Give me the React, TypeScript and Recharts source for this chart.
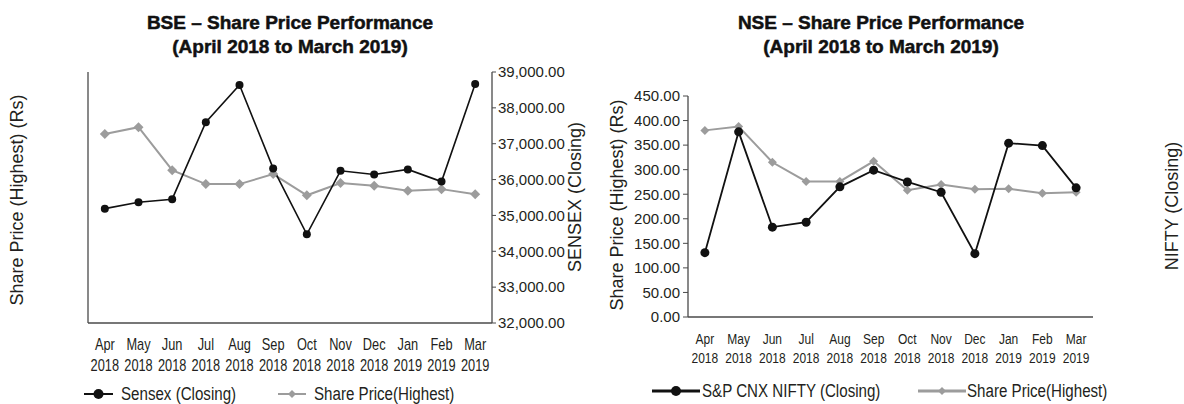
import React from "react";
import { LineChart, Line, XAxis, YAxis } from "recharts";

const months = ["Apr", "May", "Jun", "Jul", "Aug", "Sep", "Oct", "Nov", "Dec", "Jan", "Feb", "Mar"];
const years = ["2018", "2018", "2018", "2018", "2018", "2018", "2018", "2018", "2018", "2019", "2019", "2019"];

// BSE chart
const sensexClosing = [35189, 35368, 35453, 37598, 38636, 36311, 34472, 36245, 36142, 36283, 35943, 38664];
const bseSharePrice = [339, 351, 274, 249, 249, 267, 229, 251, 246, 237, 240, 231];
const sensexTicks = [32000, 33000, 34000, 35000, 36000, 37000, 38000, 39000];
const bseShareTicks = [0, 150, 300, 450];

// NSE chart
const niftyClosing = [131, 377, 183, 193, 265, 299, 275, 254, 129, 354, 349, 263];
const nseSharePrice = [380, 388, 315, 276, 276, 317, 258, 270, 260, 261, 252, 254];
const nseTicks = [0, 50, 100, 150, 200, 250, 300, 350, 400, 450];

const TEXT = "#231f20";
const AXIS = "#4a4a4a";
const BLACK = "#111111";
const GREY = "#9c9c9c";
const SANS = "'Liberation Sans', Arial, sans-serif";
// no narrow face installed, so condensed text is squeezed with a transform
const SQUEEZE = 0.8;

const idx = months.map((_, i) => i);
const bounds = months.map((_, i) => i - 0.5).concat(months.length - 0.5);
const xDomain = [-0.5, months.length - 0.5];

const bseData = idx.map((i) => ({ i, sensex: sensexClosing[i], share: bseSharePrice[i] }));
const nseData = idx.map((i) => ({ i, nifty: niftyClosing[i], share: nseSharePrice[i] }));

const fmtSensex = (v: number) => v.toLocaleString("en-US", { minimumFractionDigits: 2 });
const fmtNse = (v: number) => v.toFixed(2);

function MonthTick({ x, y, payload, size, first, gap }: any) {
  return (
    <g transform={`translate(${x},${y}) scale(${SQUEEZE},1)`}>
      <text x={0} y={0} textAnchor="middle" fontFamily={SANS} fontSize={size} fill={TEXT}>
        <tspan x={0} dy={first}>{months[payload.value]}</tspan>
        <tspan x={0} dy={gap}>{years[payload.value]}</tspan>
      </text>
    </g>
  );
}

const circleDot = (r: number) => (p: any) => <circle key={`c${p.index}`} cx={p.cx} cy={p.cy} r={r} fill={BLACK} />;
const diamondDot = (h: number) => (p: any) => (
  <polygon key={`d${p.index}`} points={`${p.cx},${p.cy - h} ${p.cx + h},${p.cy} ${p.cx},${p.cy + h} ${p.cx - h},${p.cy}`} fill={GREY} />
);

function VLabel({ x, y, text, size = 18 }: { x: number; y: number; text: string; size?: number }) {
  return (
    <div style={{ position: "absolute", left: x, top: y, transform: "translate(-50%, -50%) rotate(-90deg)", whiteSpace: "nowrap", fontSize: size, color: TEXT, fontFamily: SANS, lineHeight: 1 }}>
      {text}
    </div>
  );
}

function Title({ x, text }: { x: number; text: string[] }) {
  return (
    <div style={{ position: "absolute", left: x, top: 11, transform: "translateX(-50%)", textAlign: "center", fontWeight: 700, fontSize: 19, lineHeight: "23.5px", color: "#111", fontFamily: SANS, whiteSpace: "nowrap", WebkitTextStroke: "0.5px #111" }}>
      {text.map((t) => <div key={t}>{t}</div>)}
    </div>
  );
}

function LegendItem({ x, y, w, text, kind, thick, textX }: { x: number; y: number; w: number; text: string; kind: "circle" | "diamond"; thick: number; textX: number }) {
  const color = kind === "circle" ? BLACK : GREY;
  return (
    <>
      <svg style={{ position: "absolute", left: x, top: y - 6 }} width={w} height={12}>
        <line x1={0} x2={w} y1={6} y2={6} stroke={color} strokeWidth={thick} />
        {kind === "circle" ? <circle cx={w / 2} cy={6} r={5} fill={color} /> : <polygon points={`${w / 2},2 ${w / 2 + 4},6 ${w / 2},10 ${w / 2 - 4},6`} fill={color} />}
      </svg>
      <div style={{ position: "absolute", left: textX, top: y, transform: "translateY(-50%) scaleX(0.84)", transformOrigin: "left center", fontFamily: SANS, fontSize: 18, color: TEXT, whiteSpace: "nowrap", lineHeight: 1 }}>{text}</div>
    </>
  );
}

const axisLine = { stroke: AXIS, strokeWidth: 1.3 };

export default function App() {
  return (
    <div style={{ position: "fixed", left: 0, top: 0, width: 1184, height: 404, background: "#fff", fontFamily: SANS, overflow: "hidden" }}>
      <Title x={290} text={["BSE – Share Price Performance", "(April 2018 to March 2019)"]} />
      <Title x={881} text={["NSE – Share Price Performance", "(April 2018 to March 2019)"]} />

      <div style={{ position: "absolute", left: 0, top: 0 }}>
        <LineChart width={600} height={404} data={bseData} margin={{ top: 72, right: 0, bottom: 0, left: 0 }}>
          <XAxis xAxisId="b" dataKey="i" type="number" domain={xDomain} ticks={bounds} interval={0} tick={false} tickSize={5} height={6} axisLine={axisLine} tickLine={{ stroke: AXIS }} />
          <XAxis xAxisId="lab" dataKey="i" type="number" domain={xDomain} ticks={idx} interval={0} tickLine={false} axisLine={false} tickSize={0} tickMargin={0} height={75}
            tick={(p: any) => <MonthTick {...p} size={16} first={21} gap={21} />} />
          <XAxis xAxisId="top" orientation="top" dataKey="i" type="number" domain={xDomain} tick={false} tickLine={false} height={0} axisLine={axisLine} />
          <YAxis yAxisId="share" domain={[0, 450]} ticks={bseShareTicks} interval={0} tick={false} tickSize={7} width={88} axisLine={axisLine} tickLine={{ stroke: AXIS }} />
          <YAxis yAxisId="sensex" orientation="right" domain={[32000, 39000]} ticks={sensexTicks} interval={0} tickFormatter={fmtSensex} tickSize={4} tickMargin={2} width={108}
            axisLine={axisLine} tickLine={{ stroke: AXIS }} tick={{ fontSize: 15, fill: TEXT, fontFamily: SANS }} />
          <Line xAxisId="b" yAxisId="share" dataKey="share" type="linear" stroke={GREY} strokeWidth={2} dot={diamondDot(5)} activeDot={false} isAnimationActive={false} />
          <Line xAxisId="b" yAxisId="sensex" dataKey="sensex" type="linear" stroke={BLACK} strokeWidth={1.6} dot={circleDot(4)} activeDot={false} isAnimationActive={false} />
        </LineChart>
      </div>

      <div style={{ position: "absolute", left: 592, top: 0 }}>
        <LineChart width={592} height={404} data={nseData} margin={{ top: 96, right: 91, bottom: 0, left: 0 }}>
          <XAxis xAxisId="b" dataKey="i" type="number" domain={xDomain} ticks={bounds} interval={0} tick={false} tickSize={5} height={6} axisLine={axisLine} tickLine={{ stroke: AXIS }} />
          <XAxis xAxisId="lab" dataKey="i" type="number" domain={xDomain} ticks={idx} interval={0} tickLine={false} axisLine={false} tickSize={0} tickMargin={0} height={81}
            tick={(p: any) => <MonthTick {...p} size={15} first={21.5} gap={19} />} />
          <XAxis xAxisId="top" orientation="top" dataKey="i" type="number" domain={xDomain} tick={false} tickLine={false} height={0} axisLine={axisLine} />
          <YAxis yAxisId="l" domain={[0, 450]} ticks={nseTicks} interval={0} tickFormatter={fmtNse} tickSize={5} tickMargin={3} width={96}
            axisLine={axisLine} tickLine={{ stroke: AXIS }} tick={{ fontSize: 15, fill: TEXT, fontFamily: SANS }} />
          <YAxis yAxisId="r" orientation="right" domain={[0, 450]} tick={false} tickLine={false} width={0} axisLine={axisLine} />
          <Line xAxisId="b" yAxisId="l" dataKey="share" type="linear" stroke={GREY} strokeWidth={2} dot={diamondDot(4.5)} activeDot={false} isAnimationActive={false} />
          <Line xAxisId="b" yAxisId="l" dataKey="nifty" type="linear" stroke={BLACK} strokeWidth={1.8} dot={circleDot(4.5)} activeDot={false} isAnimationActive={false} />
        </LineChart>
      </div>

      <VLabel x={17} y={200} text="Share Price (Highest) (Rs)" />
      <VLabel x={575} y={197} text="SENSEX (Closing)" />
      <VLabel x={617} y={205} text="Share Price (Highest) (Rs)" />
      <VLabel x={1172} y={206} text="NIFTY (Closing)" />

      <LegendItem x={84} y={394} w={29} thick={2} kind="circle" textX={121} text="Sensex (Closing)" />
      <LegendItem x={278} y={394} w={28} thick={2} kind="diamond" textX={314} text="Share Price(Highest)" />
      <LegendItem x={652} y={391} w={48} thick={3} kind="circle" textX={702} text="S&P CNX NIFTY (Closing)" />
      <LegendItem x={918} y={391} w={48} thick={3} kind="diamond" textX={967} text="Share Price(Highest)" />
    </div>
  );
}
